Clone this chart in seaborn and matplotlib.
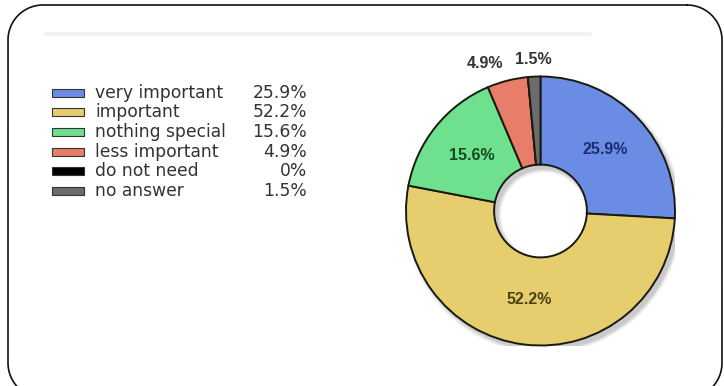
import numpy as np
import matplotlib
matplotlib.use("Agg")
import matplotlib.pyplot as plt
from matplotlib.patches import Wedge, Rectangle
import seaborn as sns

# survey answers
categories = ["very important", "important", "nothing special",
              "less important", "do not need", "no answer"]
shares = [25.9, 52.2, 15.6, 4.9, 0.0, 1.5]
share_labels = ["25.9%", "52.2%", "15.6%", "4.9%", "0%", "1.5%"]

slice_colors = ["#6a8ce4", "#e6cd6e", "#6ee08e", "#e87d69", "#000000", "#6b6b6b"]
label_colors = ["#1c2c6e", "#4a4212", "#0f4a22", "#333333", "#333333", "#333333"]

sns.set_theme(style="white")
plt.rcParams["font.family"] = ["DejaVu Sans"]

W, H = 724, 386
fig = plt.figure(figsize=(W / 100, H / 100), dpi=100)
fig.patch.set_facecolor("white")

# overlay in pixel units (y measured from the top) for frame and legend
bg = fig.add_axes([0, 0, 1, 1])
bg.set_xlim(0, W)
bg.set_ylim(H, 0)
bg.axis("off")


def rounded_outline(x0, y0, x1, y1, r, n=40):
    """Closed outline of a rectangle with rounded corners."""
    pts = []
    corners = [((x1 - r, y0 + r), -90, 0), ((x1 - r, y1 - r), 0, 90),
               ((x0 + r, y1 - r), 90, 180), ((x0 + r, y0 + r), 180, 270)]
    for (ccx, ccy), a0, a1 in corners:
        t = np.deg2rad(np.linspace(a0, a1, n))
        pts.append(np.column_stack([ccx + r * np.cos(t), ccy + r * np.sin(t)]))
    pts = np.vstack(pts + [pts[0][:1]])
    return pts[:, 0], pts[:, 1]


fx, fy = rounded_outline(8, 5, 722, 398, 35)
bg.plot(fx, fy, color="#111111", lw=1.2)
bg.plot([45, 590], [34, 34], color="#f3f3f3", lw=3, solid_capstyle="round")

# legend with the shares
palette = sns.color_palette(slice_colors)
row0, step = 92.5, 19.7
for i, (name, txt) in enumerate(zip(categories, share_labels)):
    y = row0 + i * step
    bg.add_patch(Rectangle((52, y - 4), 32, 8, fc=palette[i],
                           ec="#333333", lw=0.8))
    bg.text(95, y, name, ha="left", va="center", fontsize=12.3,
            color="#333333")
    bg.text(307, y, txt, ha="right", va="center", fontsize=12.3,
            color="#333333")

# donut chart
cx, cy, R = 540.5, 211.0, 134.5
ax = fig.add_axes([(cx - R) / W, (H - cy - R) / H, 2 * R / W, 2 * R / H])
ax.axis("off")

hole = 0.345
# soft drop shadow below the ring
for k, a in enumerate([0.06, 0.07, 0.09, 0.12]):
    grow = 0.03 - k * 0.008
    ax.add_patch(Wedge((0.025, -0.03), 1 + grow, 0, 360,
                       width=1 - hole + 2 * grow, fc="#555555", ec="none",
                       alpha=a))

wedges, _ = ax.pie(shares, colors=palette, startangle=90, counterclock=False,
                   radius=1.0,
                   wedgeprops=dict(width=1 - hole, edgecolor="#1a1a10",
                                   linewidth=1.4))
ax.set_xlim(-1, 1)
ax.set_ylim(-1, 1)
ax.set_aspect("equal")

for w, v, txt, col in zip(wedges, shares, share_labels, label_colors):
    if v <= 0:
        continue
    mid = np.deg2rad((w.theta1 + w.theta2) / 2)
    if v >= 10:
        r, ha = 0.66, "center"
    else:
        r = 1.13
        ha = "right" if np.cos(mid) < -0.1 else "center"
    ax.text(r * np.cos(mid), r * np.sin(mid), txt, ha=ha, va="center",
            fontsize=11.5, fontweight="bold", color=col,
            family=["Liberation Sans", "DejaVu Sans"], clip_on=False)

fig.savefig("out.png", dpi=100, facecolor="white")
